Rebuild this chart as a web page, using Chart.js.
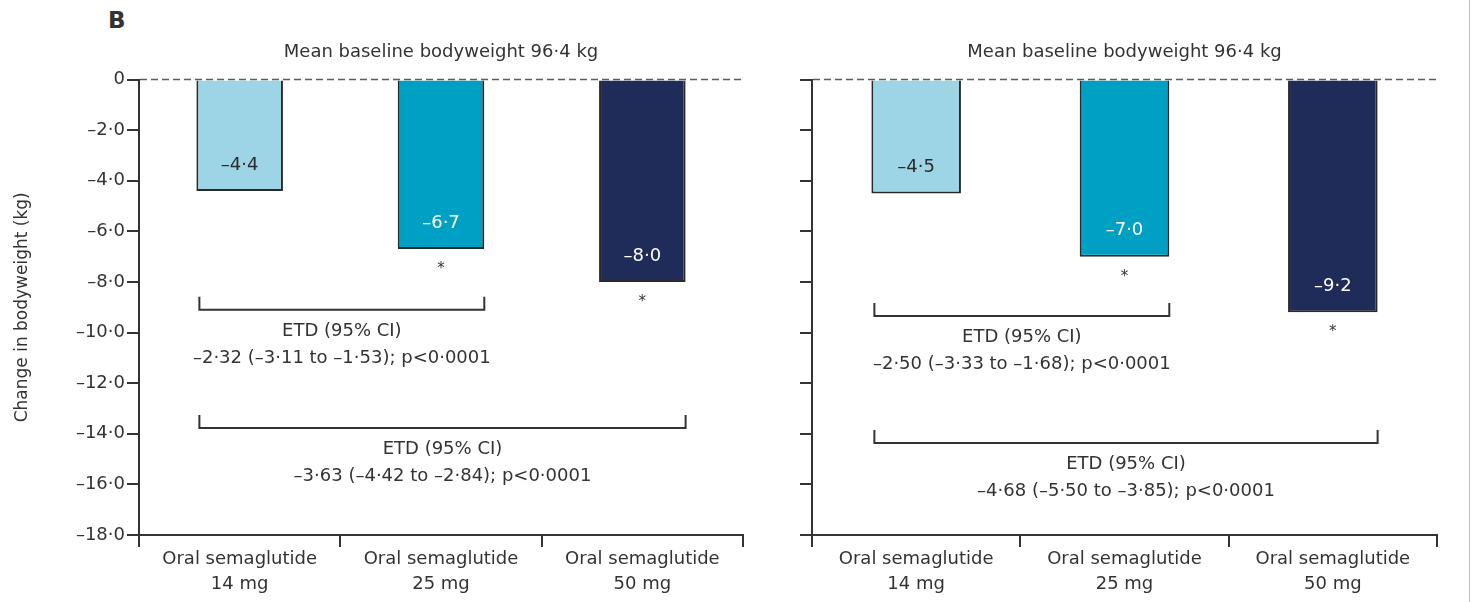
<!DOCTYPE html>
<html>
<head>
<meta charset="utf-8">
<script src="https://cdn.jsdelivr.net/npm/chart.js@4.4.1/dist/chart.umd.min.js"></script>
<style>
    body { margin: 0; background: #fff; width: 1473px; height: 602px; position: relative; overflow: hidden; font-family: 'DejaVu Sans', sans-serif; }
    #leftChart { position: absolute; left: 0; top: 0; }
    #rightChart { position: absolute; left: 776px; top: 0; }
    #panelLetter { position: absolute; left: 108px; top: 7px; font-weight: bold; font-size: 23px; color: #333; }
    #edge { position: absolute; left: 1469px; top: 0; width: 1px; height: 602px; background: #e9a6c6; }
</style>
</head>
<body>
<div id="panelLetter">B</div>
<canvas id="leftChart" width="882" height="602"></canvas>
<canvas id="rightChart" width="697" height="602"></canvas>
<div id="edge"></div>
<script>
//data
const doses = [['Oral semaglutide', '14 mg'], ['Oral semaglutide', '25 mg'], ['Oral semaglutide', '50 mg']];
const panelTitle = 'Mean baseline bodyweight 96·4 kg';
const yTitle = 'Change in bodyweight (kg)';

const leftValues = [-4.4, -6.7, -8.0];
const rightValues = [-4.5, -7.0, -9.2];

//asterisk under the bar (significant vs 14 mg)
const leftStars = [false, true, true];
const rightStars = [false, true, true];

//treatment differences
const etdHeader = 'ETD (95% CI)';
const leftEtd = ['–2·32 (–3·11 to –1·53); p<0·0001', '–3·63 (–4·42 to –2·84); p<0·0001'];
const rightEtd = ['–2·50 (–3·33 to –1·68); p<0·0001', '–4·68 (–5·50 to –3·85); p<0·0001'];

//look of things
const barColors = ['#9dd5e6', '#00a0c4', '#1f2c5a'];
const barTextColors = ['#2b2b2b', '#ffffff', '#ffffff'];
const ink = '#333333';

Chart.defaults.font.family = "'DejaVu Sans', sans-serif";
Chart.defaults.font.size = 18;
Chart.defaults.color = ink;

//lancet style numbers: en dash and middle dot
function fmt(v) {
    if (v === 0) return '0';
    return '–' + Math.abs(v).toFixed(1).replace('.', '·');
}

//draws zero line, bar values, asterisks and the ETD brackets
const annotatePlugin = {
    id: 'annotate',
    afterDatasetsDraw(chart, args, opts) {
        const ctx = chart.ctx;
        const area = chart.chartArea;
        const yScale = chart.scales.y;
        const meta = chart.getDatasetMeta(0);
        const values = chart.data.datasets[0].data;

        ctx.save();
        //dashed line at 0
        const y0 = yScale.getPixelForValue(0);
        ctx.setLineDash([7, 4]);
        ctx.strokeStyle = '#4f5f67';
        ctx.lineWidth = 1.5;
        ctx.beginPath();
        ctx.moveTo(area.left + 1, y0);
        ctx.lineTo(area.right, y0);
        ctx.stroke();
        ctx.setLineDash([]);

        ctx.textAlign = 'center';
        ctx.textBaseline = 'middle';
        meta.data.forEach(function (bar, i) {
            ctx.font = "18px 'DejaVu Sans'";
            ctx.fillStyle = barTextColors[i];
            ctx.fillText(fmt(values[i]), bar.x, bar.y - 26);
            if (opts.stars[i]) {
                ctx.font = "15px 'DejaVu Sans'";
                ctx.fillStyle = ink;
                ctx.fillText('*', bar.x, bar.y + 20);
            }
        });

        //brackets
        ctx.strokeStyle = ink;
        ctx.lineWidth = 2;
        ctx.fillStyle = ink;
        ctx.font = "18px 'DejaVu Sans'";
        opts.brackets.forEach(function (b) {
            const first = meta.data[b.from];
            const last = meta.data[b.to];
            const x1 = first.x - first.width / 2 + 3;
            const x2 = last.x + last.width / 2;
            const yb = yScale.getPixelForValue(b.y);
            ctx.beginPath();
            ctx.moveTo(x1, yb - 13);
            ctx.lineTo(x1, yb);
            ctx.lineTo(x2, yb);
            ctx.lineTo(x2, yb - 13);
            ctx.stroke();
            const xm = (x1 + x2) / 2;
            ctx.fillText(etdHeader, xm, yb + 21);
            ctx.fillText(b.text, xm, yb + 48);
        });
        ctx.restore();
    }
};

function makePanel(canvasId, values, stars, brackets, showLabels, axisWidth, rightPad) {
    const ctx = document.getElementById(canvasId);
    return new Chart(ctx, {
        type: 'bar',
        data: {
            labels: doses,
            datasets: [{
                data: values,
                backgroundColor: barColors,
                borderColor: '#2a2a2a',
                borderWidth: 2,
                barPercentage: 0.43,
                categoryPercentage: 1.0
            }]
        },
        options: {
            responsive: false,
            animation: false,
            layout: { padding: { left: 0, right: rightPad, top: 0, bottom: 0 } },
            plugins: {
                legend: { display: false },
                tooltip: { enabled: false },
                title: {
                    display: true,
                    fullSize: false,
                    text: panelTitle,
                    color: ink,
                    font: { size: 18, weight: 'normal' },
                    padding: { top: 42, bottom: 16 }
                },
                annotate: { stars: stars, brackets: brackets }
            },
            scales: {
                x: {
                    grid: { drawOnChartArea: false, tickLength: 12, color: ink, lineWidth: 2, offset: true },
                    border: { color: ink, width: 2 },
                    ticks: { padding: 0, color: ink, font: { size: 18, lineHeight: 1.4 }, maxRotation: 0, autoSkip: false },
                    afterFit: function (s) { s.height = 67; }
                },
                y: {
                    min: -18,
                    max: 0,
                    ticks: { stepSize: 2, display: showLabels, padding: 2, color: ink, callback: function (v) { return fmt(v); } },
                    grid: { drawOnChartArea: false, tickLength: 12, color: ink, lineWidth: 2 },
                    border: { color: ink, width: 2 },
                    title: { display: showLabels, text: yTitle, color: ink, font: { size: 17 }, padding: { top: 12, bottom: 0 } },
                    afterFit: function (s) { s.width = axisWidth; }
                }
            }
        },
        plugins: [annotatePlugin]
    });
}

//left panel
makePanel('leftChart', leftValues, leftStars, [
    { from: 0, to: 1, y: -9.1, text: leftEtd[0] },
    { from: 0, to: 2, y: -13.77, text: leftEtd[1] }
], true, 139, 139);

//right panel (no tick labels)
makePanel('rightChart', rightValues, rightStars, [
    { from: 0, to: 1, y: -9.34, text: rightEtd[0] },
    { from: 0, to: 2, y: -14.36, text: rightEtd[1] }
], false, 36, 36);
</script>
</body>
</html>
